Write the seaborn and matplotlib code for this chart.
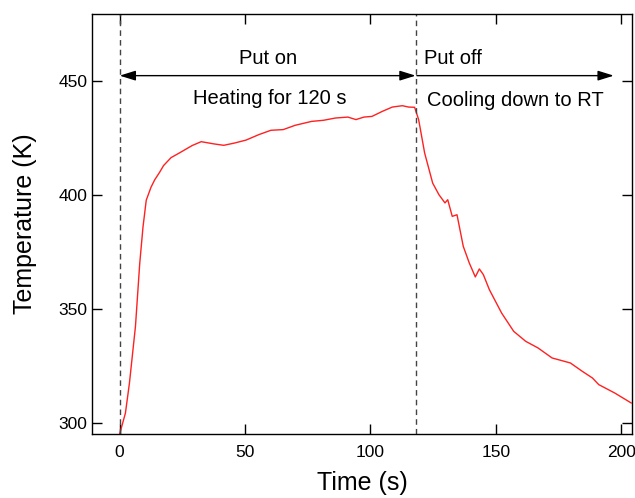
import pandas as pd
import matplotlib.pyplot as plt
import seaborn as sns

sns.set_style("ticks")
plt.rcParams["font.family"] = ["Liberation Sans", "DejaVu Sans"]
plt.rcParams["text.color"] = "black"
plt.rcParams["axes.labelcolor"] = "black"

# 데이터
time_s = [0, 2.3, 3.9, 6.3, 8.0, 9.3, 10.6, 12.5, 14, 15.9, 17.5, 20.5, 23.9,
          28.9, 32.5, 37.7, 41.5, 45.8, 50.4, 55.5, 60.3, 65.2, 70, 76.5, 81.3,
          86.1, 91, 94.2, 97.4, 100.6, 104.7, 108.7, 112.7, 115.2, 117.6,
          119.2, 121.6, 124.8, 127.3, 129.7, 130.8, 132.6, 134.5, 137, 139.4,
          141.8, 143.4, 145, 147.4, 152.3, 157.1, 161.9, 166.8, 172.4, 179.7,
          184.5, 188.5, 191, 197.4, 204]
temp_k = [295.1, 304.3, 317.5, 342.4, 370, 386, 397.8, 403.5, 406.8, 410,
          413, 416.5, 418.6, 421.8, 423.5, 422.5, 421.9, 422.9, 424.2, 426.6,
          428.5, 428.8, 430.7, 432.4, 432.9, 433.9, 434.3, 433.2, 434.3, 434.6,
          436.8, 438.7, 439.3, 438.7, 438.6,
          433.2, 418.5, 405.3, 400.2, 396.6, 398, 390.7, 391.4, 377.5, 370.2,
          364.1, 367.6, 365.1, 358.5, 348.2, 340.2, 335.8, 332.9, 328.5, 326.3,
          322.6, 319.7, 316.8, 313.1, 308.7]

switch_times = [0, 118]
x_ticks = [0, 50, 100, 150, 200]
y_ticks = [300, 350, 400, 450]

df = pd.DataFrame({"Time (s)": time_s, "Temperature (K)": temp_k})

fig = plt.figure(figsize=(6.35, 4.98), dpi=100)
ax = fig.add_axes([0.145, 0.1285, 0.85, 0.8435])

sns.lineplot(data=df, x="Time (s)", y="Temperature (K)", color="#ff2020",
             linewidth=1.0, ax=ax)

for t in switch_times:
    ax.axvline(t, color="#444444", linestyle=(0, (4, 3)), linewidth=1.0)

# 화살표와 설명 텍스트
ax.annotate("", xy=(0, 452.5), xytext=(118, 452.5),
            arrowprops=dict(arrowstyle="<|-|>,head_length=0.8,head_width=0.25",
                            color="black", lw=1.0, shrinkA=0, shrinkB=0,
                            mutation_scale=12))
ax.annotate("", xy=(197, 452.5), xytext=(118.5, 452.5),
            arrowprops=dict(arrowstyle="-|>,head_length=0.8,head_width=0.25",
                            color="black", lw=1.0, shrinkA=0, shrinkB=0,
                            mutation_scale=12))
ax.text(59, 460, "Put on", ha="center", va="center", fontsize=14.5)
ax.text(60, 442.5, "Heating for 120 s", ha="center", va="center", fontsize=14.5)
ax.text(121.5, 460, "Put off", ha="left", va="center", fontsize=14.5)
ax.text(122.5, 441.7, "Cooling down to RT", ha="left", va="center", fontsize=14.5)

ax.set_xlim(-11, 204.2)
ax.set_ylim(295.1, 479.6)
ax.set_xticks(x_ticks)
ax.set_yticks(y_ticks)
ax.tick_params(direction="in", length=7, width=1, top=True, right=True,
               labelsize=12.5, colors="black")
ax.tick_params(axis="x", pad=8)
ax.set_xlabel("Time (s)", fontsize=18, labelpad=8)
ax.set_ylabel("Temperature (K)", fontsize=18, labelpad=15)
for s in ax.spines.values():
    s.set_visible(True)
    s.set_linewidth(1.0)
    s.set_color("black")

fig.savefig("out.png", dpi=100)
